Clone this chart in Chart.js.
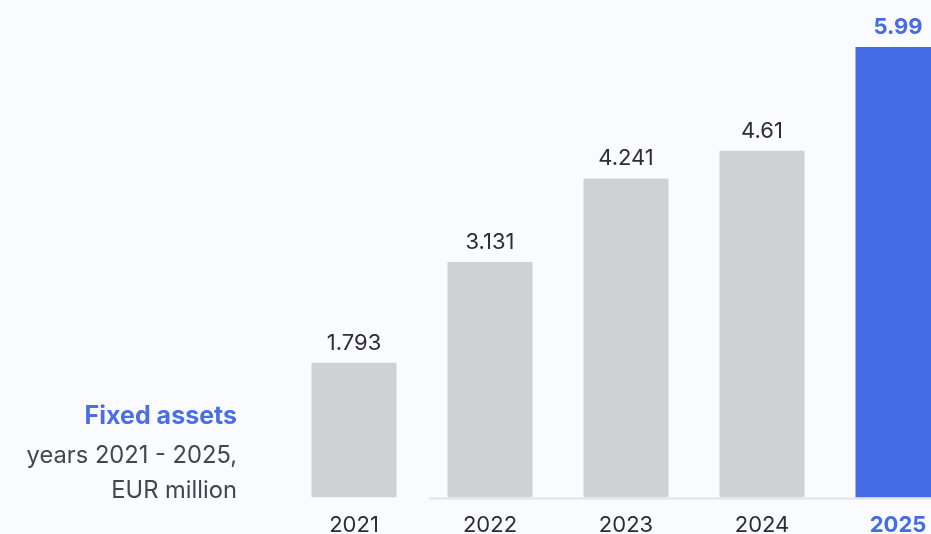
<!DOCTYPE html>
<html>
<head>
<meta charset="utf-8">
<script src="https://cdn.jsdelivr.net/npm/chart.js@4/dist/chart.umd.min.js"></script>
<style>
  html, body { margin: 0; padding: 0; background: #f9fbff; overflow: hidden; }
  body { width: 931px; height: 534px; position: relative; font-family: Inter, sans-serif; }
  #wrap { position: absolute; left: 0; top: 0; width: 1000px; height: 554px; }
  .caption { position: absolute; right: 694px; text-align: right; white-space: nowrap; line-height: 30px; }
  #title { top: 400px; font-size: 25px; font-weight: 700; color: #4a6fe3; }
  #sub1 { top: 440px; font-size: 23.7px; color: #45464d; }
  #sub2 { top: 475px; font-size: 23.7px; color: #45464d; }
</style>
</head>
<body>
<div id="wrap"><canvas id="assetsChart"></canvas></div>
<div class="caption" id="title">Fixed assets</div>
<div class="caption" id="sub1">years 2021 - 2025,</div>
<div class="caption" id="sub2">EUR million</div>
<script>
// Fixed assets by year, EUR million
const years = ['2021', '2022', '2023', '2024', '2025'];
const assets = [1.793, 3.131, 4.241, 4.61, 5.99];
const highlightYear = '2025';

const grey = '#d0d1d5';
const blue = '#456be6';
const darkText = '#2b2d3c';

const barColors = years.map(y => y === highlightYear ? blue : grey);

// value labels above each bar
const valueLabels = {
    id: 'valueLabels',
    afterDatasetsDraw(chart) {
        const ctx = chart.ctx;
        const meta = chart.getDatasetMeta(0);
        ctx.save();
        ctx.textAlign = 'center';
        ctx.textBaseline = 'alphabetic';
        meta.data.forEach((bar, i) => {
            const hi = years[i] === highlightYear;
            ctx.font = (hi ? '700 ' : '400 ') + '22px Inter';
            ctx.fillStyle = hi ? blue : darkText;
            ctx.fillText(String(assets[i]), bar.x, bar.y - 13);
        });
        ctx.restore();
    }
};

// light baseline under the bars
const baseline = {
    id: 'baseline',
    beforeDatasetsDraw(chart) {
        const ctx = chart.ctx;
        const y = chart.scales.y.getPixelForValue(0);
        ctx.save();
        ctx.strokeStyle = '#e1e3ea';
        ctx.lineWidth = 2;
        ctx.beginPath();
        ctx.moveTo(429, y + 1);
        ctx.lineTo(chart.width, y + 1);
        ctx.stroke();
        ctx.restore();
    }
};

new Chart(document.getElementById('assetsChart'), {
    type: 'bar',
    data: {
        labels: years,
        datasets: [{
            data: assets,
            backgroundColor: barColors,
            borderWidth: 0,
            categoryPercentage: 1,
            barPercentage: 0.625
        }]
    },
    options: {
        responsive: true,
        maintainAspectRatio: false,
        animation: false,
        layout: { padding: { left: 286, right: 34, top: 0, bottom: 0 } },
        plugins: { legend: { display: false }, tooltip: { enabled: false } },
        scales: {
            x: {
                grid: { display: false, drawTicks: false },
                border: { display: false },
                ticks: {
                    padding: 15,
                    font: ctx => ({ family: 'Inter', size: 22, weight: years[ctx.index] === highlightYear ? '700' : '400' }),
                    color: ctx => years[ctx.index] === highlightYear ? blue : darkText
                }
            },
            y: {
                display: false,
                min: 0,
                max: 6.613
            }
        }
    },
    plugins: [baseline, valueLabels]
});
</script>
</body>
</html>
